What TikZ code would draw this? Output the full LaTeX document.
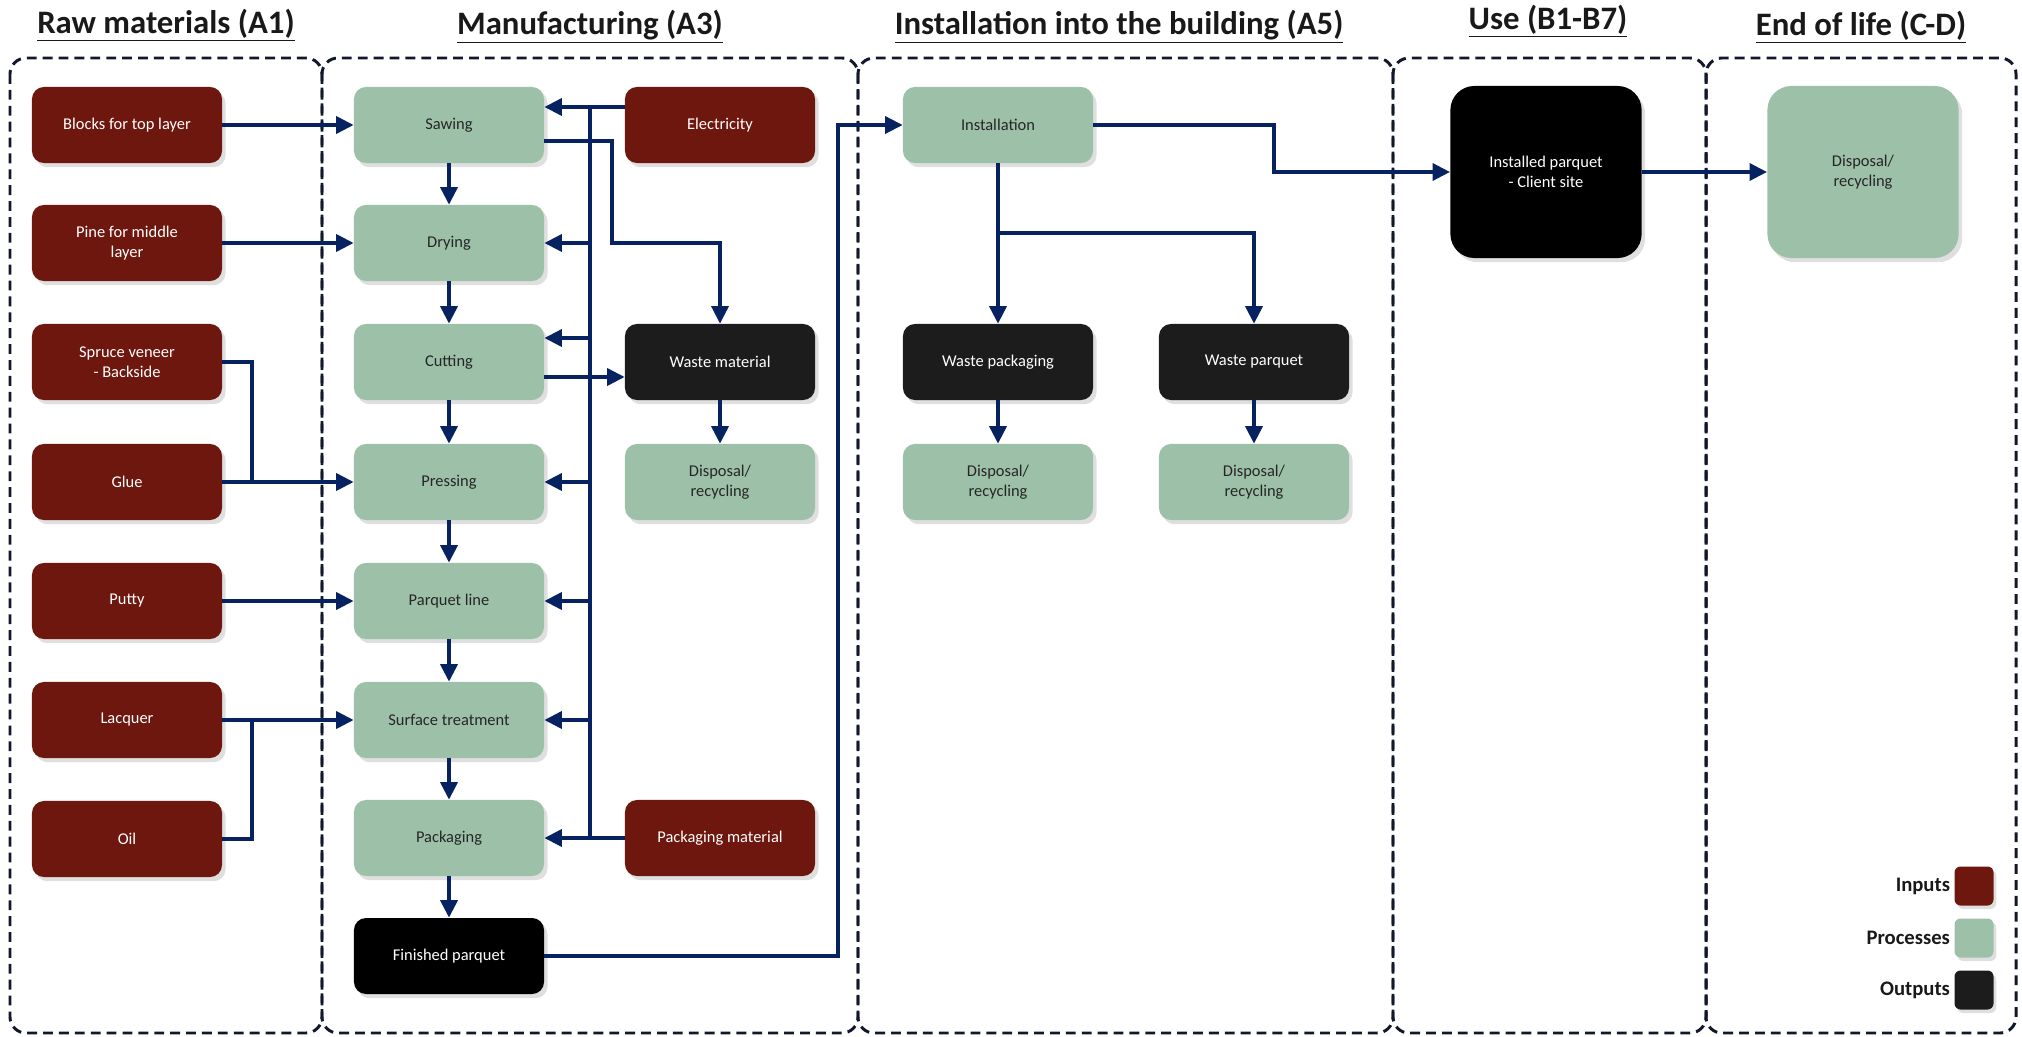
\documentclass[tikz,border=0pt]{standalone}
\usepackage{fontspec}
\setmainfont{Carlito}
\usetikzlibrary{arrows.meta,shadows,positioning}

\definecolor{supplyred}{RGB}{110,23,14}
\definecolor{processgreen}{RGB}{157,192,168}
\definecolor{productblack}{RGB}{28,28,28}
\definecolor{flowblue}{RGB}{6,34,96}
\definecolor{framenavy}{RGB}{18,24,44}

\begin{document}
\begin{tikzpicture}[x=0.025cm,y=-0.025cm]
    % `card' is the common look of all boxes.
    % `supply', `process' and `product' give the inputs, processes and outputs.
    % `flow' is used for the arrows, `link' for plain joining lines.
    \tikzstyle{card} = [rounded corners=0.3cm,minimum width=4.75cm,minimum height=1.9cm,align=center,
                        font=\fontsize{11.7}{14}\selectfont,
                        drop shadow={shadow xshift=2.5pt,shadow yshift=-3pt,opacity=0.25}]
    \tikzstyle{supply} = [card,fill=supplyred,text=white]
    \tikzstyle{process} = [card,fill=processgreen,text=black!85]
    \tikzstyle{product} = [card,fill=productblack,text=white]
    \tikzstyle{tall} = [minimum width=4.78cm,minimum height=4.3cm,rounded corners=0.6cm]
    \tikzstyle{flow} = [draw=flowblue,line width=2.8pt,-{Triangle[length=12.5pt,width=12pt]}]
    \tikzstyle{link} = [draw=flowblue,line width=2.3pt]
    \tikzstyle{stage} = [draw=framenavy,line width=2.1pt,dash pattern=on 7pt off 4.3pt,rounded corners=0.4cm]
    \tikzstyle{heading} = [font=\fontsize{23.3}{27}\bfseries,text=black!90]
    \tikzstyle{key} = [rounded corners=0.15cm,minimum size=0.975cm,
                       drop shadow={shadow xshift=2pt,shadow yshift=-2.5pt,opacity=0.25}]
    \tikzstyle{keytext} = [font=\fontsize{14.7}{17}\bfseries,inner sep=0pt,text=black!90]
    %
    \useasboundingbox (0,0) rectangle (2022,1037);
    %
    % Stage frames and headings.
    \draw[stage] (10,58) rectangle (322,1033);
    \draw[stage] (322,58) rectangle (858,1033);
    \draw[stage] (858,58) rectangle (1393,1033);
    \draw[stage] (1393,58) rectangle (1706,1033);
    \draw[stage] (1706,58) rectangle (2016,1033);
    \node[heading] (hA1) at (166,25) {\underline{Raw materials (A1)}};
    \node[heading] (hA3) at (590,27) {\underline{Manufacturing (A3)}};
    \node[heading] (hA5) at (1119,27) {\underline{Installation into the building (A5)}};
    \node[heading] (hB) at (1548,21) {\underline{Use (B1-B7)}};
    \node[heading] (hCD) at (1861,27) {\underline{End of life (C-D)}};
    %
    % Raw materials.
    \node[supply] (blocks) at (127,125) {Blocks for top layer};
    \node[supply] (pine) at (127,243) {Pine for middle\\layer};
    \node[supply] (spruce) at (127,362) {Spruce veneer\\- Backside};
    \node[supply] (glue) at (127,482) {Glue};
    \node[supply] (putty) at (127,601) {Putty};
    \node[supply] (lacquer) at (127,720) {Lacquer};
    \node[supply] (oil) at (127,839) {Oil};
    %
    % Manufacturing.
    \node[process] (sawing) at (449,125) {Sawing};
    \node[process] (drying) at (449,243) {Drying};
    \node[process] (cutting) at (449,362) {Cutting};
    \node[process] (pressing) at (449,482) {Pressing};
    \node[process] (pline) at (449,601) {Parquet line};
    \node[process] (surface) at (449,720) {Surface treatment};
    \node[process] (packaging) at (449,838) {Packaging};
    \node[product,fill=black] (finished) at (449,956) {Finished parquet};
    \node[supply] (power) at (720,125) {Electricity};
    \node[product] (wastemat) at (720,362) {Waste material};
    \node[process] (dispmat) at (720,482) {Disposal/\\recycling};
    \node[supply] (packmat) at (720,838) {Packaging material};
    %
    % Installation, use and end of life.
    \node[process] (install) at (998,125) {Installation};
    \node[product] (wastepack) at (998,362) {Waste packaging};
    \node[product] (wasteparq) at (1254,362) {Waste parquet};
    \node[process] (disppack) at (998,482) {Disposal/\\recycling};
    \node[process] (dispparq) at (1254,482) {Disposal/\\recycling};
    \node[product,tall,fill=black] (used) at (1546,172) {Installed parquet\\- Client site};
    \node[process,tall] (endlife) at (1863,172) {Disposal/\\recycling};
    %
    % Helper points for the lines.
    \coordinate (bus) at (590,0);
    \coordinate (side) at (612,243);
    \coordinate (join) at (252,0);
    \coordinate (ship) at (838,0);
    \coordinate (turn) at (1274,0);
    \coordinate (fork) at (998,233);
    \coordinate (e1) at ([yshift=0.45cm]power.west);
    %
    % Inputs into the line.
    \foreach \a/\b in {blocks/sawing,pine/drying,glue/pressing,putty/pline,lacquer/surface}
        \draw[flow] (\a.east) -- (\b.west);
    \draw[link] (spruce.east) -| (join |- glue.east);
    \draw[link] (oil.east) -| (join |- lacquer.east);
    %
    % Process chain.
    \foreach \a/\b in {sawing/drying,drying/cutting,cutting/pressing,pressing/pline,
                       pline/surface,surface/packaging,packaging/finished}
        \draw[flow] (\a.south) -- (\b.north);
    %
    % Energy and packaging bus.
    \draw[flow] (e1) -- (e1 -| sawing.east);
    \draw[link] (e1 -| bus) -- (packmat.west -| bus);
    \foreach \n in {drying,pressing,pline,surface}
        \draw[flow] (\n.east -| bus) -- (\n.east);
    \draw[flow] ([yshift=0.6cm]cutting.east -| bus) -- ([yshift=0.6cm]cutting.east);
    \draw[flow] (packmat.west) -- (packaging.east);
    %
    % Waste of manufacturing.
    \draw[flow,line width=2.6pt] ([yshift=-0.4cm]sawing.east) -| (side) -| (wastemat.north);
    \draw[flow] ([yshift=-0.375cm]cutting.east) -- ([yshift=-0.375cm]cutting.east -| wastemat.west);
    \draw[flow] (wastemat.south) -- (dispmat.north);
    %
    % Installation and after.
    \draw[flow,line width=2.6pt] (finished.east) -| (ship |- install.west) -- (install.west);
    \draw[flow] (install.east) -| (turn |- used.west) -- (used.west);
    \draw[flow] (used.east) -- (endlife.west);
    \draw[flow] (install.south) -- (wastepack.north);
    \draw[flow] (fork) -| (wasteparq.north);
    \draw[flow] (wastepack.south) -- (disppack.north);
    \draw[flow] (wasteparq.south) -- (dispparq.north);
    %
    % Legend.
    \node[key,fill=supplyred] (keyin) at (1974,886) {};
    \node[key,fill=processgreen] (keyproc) at (1974,938) {};
    \node[key,fill=productblack] (keyout) at (1974,990) {};
    \node[keytext,left=0.1cm of keyin] (tin) {Inputs};
    \node[keytext,left=0.1cm of keyproc] (tproc) {Processes};
    \node[keytext,left=0.1cm of keyout] (tout) {Outputs};
\end{tikzpicture}
\end{document}
